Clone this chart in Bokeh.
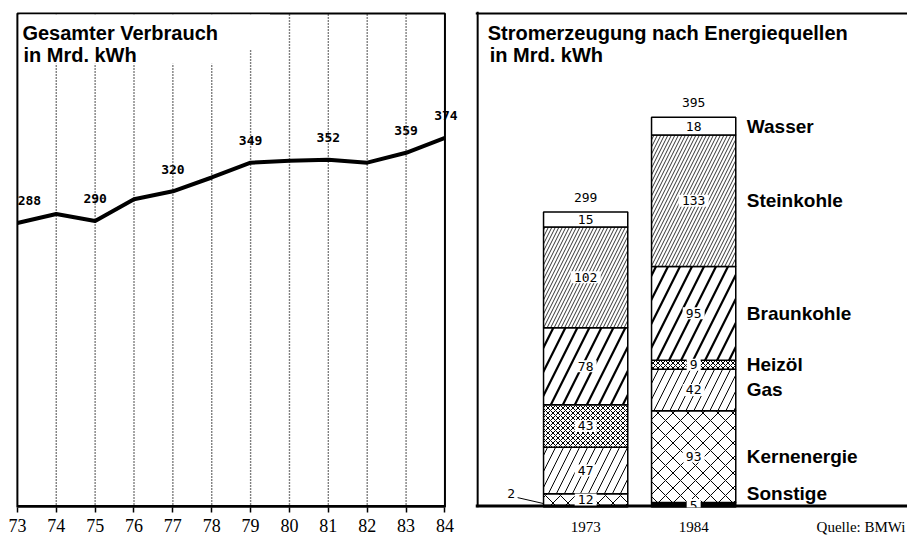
from bokeh.plotting import figure
from bokeh.models import ColumnDataSource, LabelSet, Label, BoxAnnotation, Span, FixedTicker
from bokeh.layouts import row
from bokeh.core.properties import value
from bokeh.embed import file_html
from bokeh.resources import INLINE

# ---------------- data ----------------
years = [73, 74, 75, 76, 77, 78, 79, 80, 81, 82, 83, 84]
consumption = [288, 297, 290, 312, 320, 334, 349, 351, 352, 349, 359, 374]
labelled_years = [73, 75, 77, 79, 81, 83, 84]

sources = ["Sonstige", "Kernenergie", "Gas", "Heizöl", "Braunkohle", "Steinkohle", "Wasser"]
bar_years = ["1973", "1984"]
gen_1973 = [2, 12, 47, 43, 78, 102, 15]
gen_1984 = [5, 93, 42, 9, 95, 133, 18]
totals = [299, 395]
source_note = "Quelle: BMWi"

SANS = "Liberation Sans"
SERIF = "Liberation Serif"
MONO = "DejaVu Sans Mono"
Y_TOP = 500

# ---------------- left chart ----------------
p1 = figure(width=470, height=540, x_range=(72.9, 84.4), y_range=(0, 502),
            output_backend="svg", toolbar_location=None, y_axis_location=None,
            min_border_left=13, min_border_right=10, min_border_top=11, min_border_bottom=33)
p1.outline_line_color = None
p1.background_fill_color = "white"
p1.border_fill_color = "white"
p1.xgrid.visible = False
p1.ygrid.visible = False
p1.xaxis.ticker = FixedTicker(ticks=years)
p1.xaxis.axis_line_color = None
p1.xaxis.major_tick_out = 5
p1.xaxis.major_tick_in = 0
p1.xaxis.major_tick_line_width = 1.5
p1.xaxis.major_tick_line_color = "black"
p1.xaxis.minor_tick_out = 0
p1.xaxis.minor_tick_in = 0
p1.xaxis.major_label_standoff = 6
p1.xaxis.major_label_text_font = SERIF
p1.xaxis.major_label_text_font_size = "18px"
p1.xaxis.major_label_text_color = "black"

# dotted year lines
inner = years[1:-1]
p1.segment(x0=inner, y0=[0] * len(inner), x1=inner, y1=[Y_TOP] * len(inner),
           line_color="black", line_dash="1 2", line_width=1.4)
# frame
p1.quad(left=[years[0]], right=[years[-1]], bottom=[0], top=[Y_TOP],
        fill_color=None, line_color="black", line_width=2)
p1.segment(x0=[years[0]], y0=[0], x1=[years[-1]], y1=[0], line_color="black", line_width=5)

p1.line(years, consumption, line_width=4, line_color="black", line_join="round")

# mask the dotted lines behind the title block
p1.add_layout(BoxAnnotation(left=73.05, right=78.5, bottom=449, top=499,
                            fill_color="white", fill_alpha=1, line_color=None))
p1.add_layout(BoxAnnotation(left=78.5, right=79.5, bottom=463, top=499,
                            fill_color="white", fill_alpha=1, line_color=None))

lab_y = [consumption[years.index(y)] for y in labelled_years]
lab_xo = [12 if y == years[0] else (1 if y == years[-1] else 0) for y in labelled_years]
src1 = ColumnDataSource(dict(x=labelled_years, y=lab_y, t=[str(v) for v in lab_y], xo=lab_xo))
p1.add_layout(LabelSet(x="x", y="y", text="t", source=src1, x_offset="xo", y_offset=22,
                       text_align="center", text_baseline="middle",
                       text_font=value(MONO), text_font_size="13px", text_font_style="bold",
                       text_color="black"))

p1.add_layout(Label(x=73, y=480, x_offset=5, text="Gesamter Verbrauch",
                    text_font=SANS, text_font_style="bold", text_font_size="20px",
                    text_baseline="alphabetic", text_color="black"))
p1.add_layout(Label(x=73, y=458, x_offset=6, text="in Mrd. kWh",
                    text_font=SANS, text_font_style="bold", text_font_size="20px",
                    text_baseline="alphabetic", text_color="black"))

# ---------------- right chart ----------------
bar_x = [1, 2]
bar_w = 0.78
note_x = 3.55
x_lo, x_hi = -0.02, 3.98
p2 = figure(width=437, height=540, x_range=(x_lo, x_hi), y_range=(0, 502),
            output_backend="svg", toolbar_location=None, y_axis_location=None,
            min_border_left=5, min_border_right=0, min_border_top=11, min_border_bottom=33)
p2.outline_line_color = None
p2.background_fill_color = "white"
p2.border_fill_color = "white"
p2.xgrid.visible = False
p2.ygrid.visible = False
p2.xaxis.ticker = FixedTicker(ticks=bar_x + [note_x])
p2.xaxis.major_label_overrides = {bar_x[0]: bar_years[0], bar_x[1]: bar_years[1],
                                  note_x: source_note}
p2.xaxis.axis_line_color = None
p2.xaxis.major_tick_out = 0
p2.xaxis.major_tick_in = 0
p2.xaxis.minor_tick_out = 0
p2.xaxis.minor_tick_in = 0
p2.xaxis.major_label_standoff = 11
p2.xaxis.major_label_text_font = SERIF
p2.xaxis.major_label_text_font_size = "15px"
p2.xaxis.major_label_text_color = "black"

p2.add_layout(Span(location=Y_TOP, dimension="width", line_color="black", line_width=2))
p2.add_layout(Span(location=0, dimension="height", line_color="black", line_width=2))

styles = {
    "Sonstige":    dict(fill_color="black", hatch_pattern=" ", hatch_scale=12, hatch_weight=1),
    "Kernenergie": dict(fill_color="white", hatch_pattern="x", hatch_scale=15, hatch_weight=1),
    "Gas":         dict(fill_color="white", hatch_pattern="/", hatch_scale=16, hatch_weight=1),
    "Heizöl":      dict(fill_color="white", hatch_pattern="x", hatch_scale=5, hatch_weight=1),
    "Braunkohle":  dict(fill_color="white", hatch_pattern="/", hatch_scale=24, hatch_weight=2.2),
    "Steinkohle":  dict(fill_color="white", hatch_pattern="/", hatch_scale=7, hatch_weight=0.8),
    "Wasser":      dict(fill_color="white", hatch_pattern=" ", hatch_scale=12, hatch_weight=1),
}

b73 = 0
b84 = 0
vx, vy, vt = [], [], []
mids84 = []
for name, v73, v84 in zip(sources, gen_1973, gen_1984):
    st = styles[name]
    p2.vbar(x=bar_x, bottom=[b73, b84], top=[b73 + v73, b84 + v84], width=bar_w,
            fill_color=st["fill_color"], line_color="black", line_width=1.5,
            hatch_pattern=st["hatch_pattern"], hatch_scale=st["hatch_scale"],
            hatch_weight=st["hatch_weight"], hatch_color="black")
    if v73 >= 5:
        vx.append(bar_x[0]); vy.append(b73 + v73 / 2); vt.append(str(v73))
    vx.append(bar_x[1]); vy.append(b84 + v84 / 2); vt.append(str(v84))
    mids84.append(b84 + v84 / 2)
    b73 += v73
    b84 += v84

# thick base line (drawn as glyph so that the label boxes can interrupt it)
p2.segment(x0=[x_lo], y0=[0], x1=[x_hi], y1=[0], line_color="black", line_width=6)

src2 = ColumnDataSource(dict(x=vx, y=vy, t=vt, w=[8 * len(t) + 6 for t in vt]))
p2.rect(x="x", y="y", width="w", height=12, width_units="screen", height_units="screen",
        fill_color="white", line_color=None, source=src2)
p2.text(x="x", y="y", text="t", source=src2, text_align="center", text_baseline="middle",
        text_font=value(MONO), text_font_size="13px", text_color="black")

src3 = ColumnDataSource(dict(x=bar_x, y=totals, t=[str(v) for v in totals]))
p2.add_layout(LabelSet(x="x", y="y", text="t", source=src3, y_offset=15,
                       text_align="center", text_baseline="middle",
                       text_font=value(MONO), text_font_size="13px", text_color="black"))

# small external label for the 2 of 1973
lx = bar_x[0] - bar_w / 2
p2.segment(x0=[lx], y0=[4], x1=[lx - 0.24], y1=[10], line_color="black", line_width=1)
p2.add_layout(Label(x=lx - 0.30, y=14, text=str(gen_1973[0]), text_align="center",
                    text_baseline="middle", text_font=MONO, text_font_size="13px",
                    text_color="black"))

leg_y = [max(m, 14) for m in mids84]
src4 = ColumnDataSource(dict(x=[bar_x[1] + bar_w / 2] * len(sources), y=leg_y, t=sources))
p2.add_layout(LabelSet(x="x", y="y", text="t", source=src4, x_offset=11,
                       text_align="left", text_baseline="middle",
                       text_font=value(SANS), text_font_style="bold", text_font_size="19px",
                       text_color="black"))

p2.add_layout(Label(x=0, y=480, x_offset=10, text="Stromerzeugung  nach  Energiequellen",
                    text_font=SANS, text_font_style="bold", text_font_size="20px",
                    text_baseline="alphabetic", text_color="black"))
p2.add_layout(Label(x=0, y=458, x_offset=12, text="in  Mrd.  kWh",
                    text_font=SANS, text_font_style="bold", text_font_size="20px",
                    text_baseline="alphabetic", text_color="black"))

layout = row(p1, p2)
open("out.html", "w").write(file_html(layout, INLINE))
